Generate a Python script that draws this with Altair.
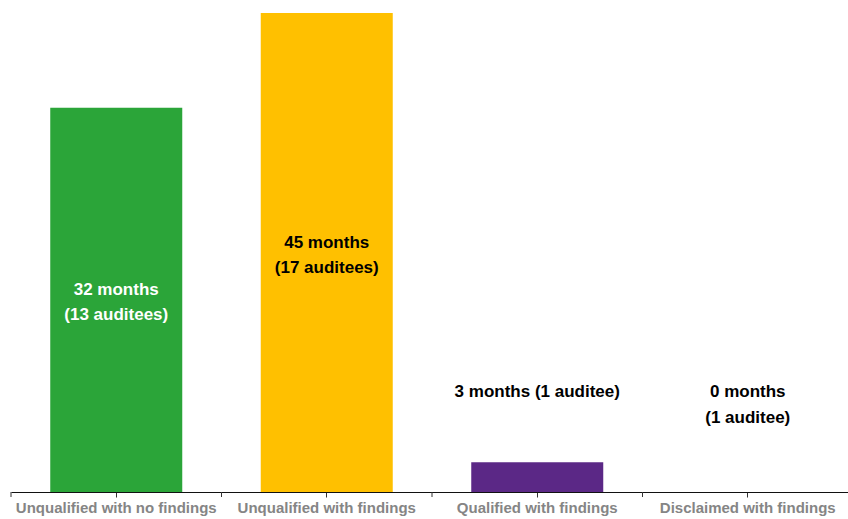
import altair as alt
import pandas as pd

categories = ["Unqualified with no findings", "Unqualified with findings",
              "Qualified with findings", "Disclaimed with findings"]
bar_heights = [36.1, 45, 2.8, 0]
months = [32, 45, 3, 0]
auditees = [13, 17, 1, 1]
colors = ["#2BA539", "#FFC000", "#5B2886", "#FFFFFF"]
label_colors = ["#FFFFFF", "#000000", "#000000", "#000000"]

def make_label(m, a):
    unit = "auditee" if a == 1 else "auditees"
    if m == 3:
        return [f"{m} months ({a} {unit})"]
    return [f"{m} months", f"({a} {unit})"]

df = pd.DataFrame({
    "cat": categories,
    "h": bar_heights,
    "months": months,
    "auditees": auditees,
    "color": colors,
    "lcolor": label_colors,
})
df["label"] = [make_label(m, a) for m, a in zip(months, auditees)]

FONT = "Liberation Sans, Arial, sans-serif"
W, H = 837, 479

xscale = alt.Scale(domain=categories, range=[0, 842], paddingInner=0, paddingOuter=0)
yscale = alt.Scale(domain=[0, 45], nice=False)

base = alt.Chart(df)

bars = base.mark_bar(size=132).encode(
    x=alt.X("cat:N", scale=xscale, sort=categories, title=None,
            axis=alt.Axis(labelAngle=0, labelFont=FONT, labelFontSize=15,
                          labelFontWeight="bold", labelColor="#858585",
                          labelPadding=3, labelLimit=0, tickSize=5,
                          tickColor="#333333", domainColor="#111111",
                          domainWidth=1.2, grid=False)),
    y=alt.Y("h:Q", scale=yscale, axis=None),
    color=alt.Color("color:N", scale=None),
)

boundary_ticks = base.mark_rule(color="#333333").encode(
    x=alt.X("cat:N", scale=xscale, sort=categories, bandPosition=0),
    y=alt.value(H),
    y2=alt.value(H + 5),
)

inside = base.transform_filter("datum.h > 10").transform_calculate(
    mid="datum.h / 2"
).mark_text(font=FONT, fontSize=17, fontWeight="bold", lineHeight=25,
            baseline="middle", align="center", dy=-10).encode(
    x=alt.X("cat:N", scale=xscale, sort=categories),
    y=alt.Y("mid:Q", scale=yscale),
    text="label",
    color=alt.Color("lcolor:N", scale=None),
)

outside = base.transform_filter("datum.h <= 10").mark_text(
    font=FONT, fontSize=17, fontWeight="bold", lineHeight=26,
    baseline="top", align="center", color="#000000").encode(
    x=alt.X("cat:N", scale=xscale, sort=categories),
    y=alt.value(371),
    text="label",
)

chart = alt.layer(bars, boundary_ticks, inside, outside).properties(
    width=W, height=H,
    padding={"left": 11, "top": 13, "right": 0, "bottom": 27},
    autosize=alt.AutoSizeParams(type="none"),
).configure_view(stroke=None)

chart.save("out.html", embed_options={"renderer": "svg", "actions": False})
